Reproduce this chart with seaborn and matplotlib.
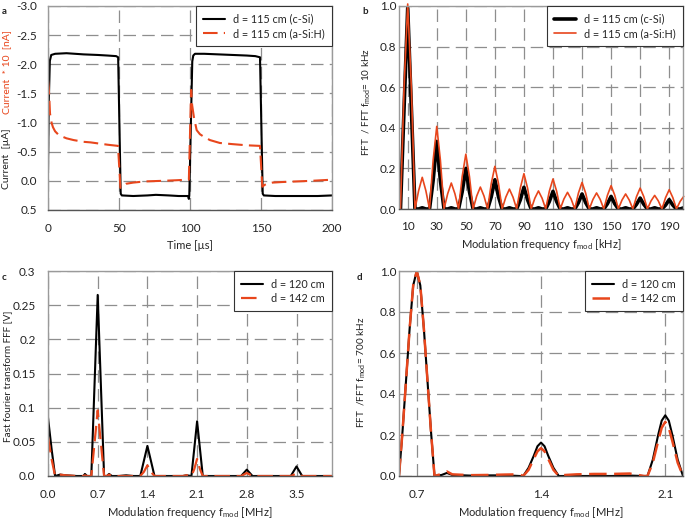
import numpy as np
import pandas as pd
import seaborn as sns
import matplotlib.pyplot as plt

# ---- panel a: current vs time ----
time_csi = [0, 0.5, 1.3, 2.3, 5, 13, 25, 35, 42, 48,
            49.4, 51.2, 52, 60, 70, 76, 85, 92, 98.6, 99.2,
            99.5, 101.6, 102.3, 103.5, 110, 120, 130, 140, 146, 149.3,
            151.2, 152, 160, 170, 180, 190, 200]
curr_csi = [-0.19, -1.3, -2.06, -2.16, -2.18, -2.19, -2.17, -2.16, -2.15, -2.14,
            -2.12, 0.22, 0.25, 0.26, 0.25, 0.24, 0.25, 0.26, 0.26, 0.31,
            0.25, -2.05, -2.15, -2.18, -2.18, -2.17, -2.16, -2.15, -2.14, -2.12,
            0.22, 0.25, 0.26, 0.26, 0.26, 0.26, 0.25]

time_asi = [0, 0.5, 0.9, 1.4, 2.0, 2.6, 3.5, 5, 7, 10,
            13, 18, 25, 30, 36, 42, 49.3, 51, 52.5, 55,
            60, 68, 80, 90, 98.5, 99.2, 100.8, 101.5, 102.7, 104.7,
            107, 109.5, 114, 121, 130, 140, 149.3, 150.9, 152.5, 154,
            158, 165, 175, 185, 200]
curr_asi = [-1.73, -1.6, -1.44, -1.16, -1.06, -0.99, -0.92, -0.85, -0.8, -0.76,
            -0.73, -0.7, -0.67, -0.66, -0.64, -0.62, -0.6, 0.12, 0.09, 0.05,
            0.03, 0.01, 0.0, -0.01, -0.02, -0.02, -1.56, -1.3, -1.1, -0.87,
            -0.8, -0.76, -0.7, -0.65, -0.63, -0.61, -0.6, 0.1, 0.07, 0.05,
            0.03, 0.02, 0.01, 0.0, -0.02]

# ---- panel b: normalised FFT, kHz ----
freq_b = [5, 7.5, 10, 12.5, 15, 17.5, 20, 22.5, 25, 27.5,
          30, 32.5, 35, 37.5, 40, 42.5, 45, 47.5, 50, 52.5,
          55, 57.5, 60, 62.5, 65, 67.5, 70, 72.5, 75, 77.5,
          80, 82.5, 85, 87.5, 90, 92.5, 95, 97.5, 100, 102.5,
          105, 107.5, 110, 112.5, 115, 117.5, 120, 122.5, 125, 127.5,
          130, 132.5, 135, 137.5, 140, 142.5, 145, 147.5, 150, 152.5,
          155, 157.5, 160, 162.5, 165, 167.5, 170, 172.5, 175, 177.5,
          180, 182.5, 185, 187.5, 190, 192.5, 195, 197.5, 200]
fft_csi = [0, 0.5, 0.99, 0.5, 0, 0, 0.006, 0, 0, 0.14,
           0.333, 0.14, 0, 0, 0.006, 0, 0, 0.085, 0.2, 0.085,
           0, 0, 0.006, 0, 0, 0.06, 0.144, 0.06, 0, 0,
           0.006, 0, 0, 0.045, 0.107, 0.045, 0, 0, 0.006, 0,
           0, 0.037, 0.087, 0.037, 0, 0, 0.006, 0, 0, 0.031,
           0.074, 0.031, 0, 0, 0.006, 0, 0, 0.026, 0.062, 0.026,
           0, 0, 0.006, 0, 0, 0.023, 0.054, 0.023, 0, 0,
           0.006, 0, 0, 0.019, 0.046, 0.019, 0, 0, 0.006]
fft_asi = [0, 0.6, 1.01, 0.6, 0, 0.09, 0.156, 0.09, 0, 0.24,
           0.407, 0.24, 0, 0.075, 0.128, 0.075, 0, 0.16, 0.27, 0.16,
           0, 0.064, 0.108, 0.064, 0, 0.125, 0.21, 0.125, 0, 0.058,
           0.098, 0.058, 0, 0.103, 0.174, 0.103, 0, 0.053, 0.089, 0.053,
           0, 0.088, 0.148, 0.088, 0, 0.049, 0.082, 0.049, 0, 0.078,
           0.131, 0.078, 0, 0.047, 0.079, 0.047, 0, 0.068, 0.115, 0.068,
           0, 0.044, 0.074, 0.044, 0, 0.061, 0.103, 0.061, 0, 0.04,
           0.067, 0.04, 0, 0.056, 0.095, 0.056, 0, 0.037, 0.062]

# ---- panel c: FFT amplitude, MHz ----
freq_c = [0.0, 0.05, 0.1, 0.17, 0.25, 0.4, 0.5, 0.52, 0.55, 0.61,
          0.7, 0.79, 0.83, 0.86, 0.9, 1.0, 1.1, 1.2, 1.3, 1.35,
          1.4, 1.45, 1.5, 1.7, 1.9, 1.95, 2.02, 2.06, 2.1, 2.14,
          2.18, 2.3, 2.5, 2.72, 2.8, 2.88, 3.0, 3.2, 3.42, 3.5,
          3.58, 3.8, 4.0]
fft_120 = [0.0855, 0.04, 0.0, 0.002, 0.001, 0.0, 0.0, 0.003, 0.0, 0.0,
           0.265, 0.0, 0.0, 0.003, 0.0, 0.0, 0.001, 0.0, 0.0, 0.022,
           0.044, 0.022, 0.0, 0.0, 0.0, 0.001, 0.0, 0.04, 0.080, 0.04,
           0.0, 0.0, 0.0, 0.0, 0.0093, 0.0, 0.0, 0.0, 0.0, 0.014,
           0.0, 0.0, 0.0]
fft_142 = [0.057, 0.025, 0.0, 0.002, 0.001, 0.0, 0.0, 0.001, 0.0, 0.0,
           0.096, 0.0, 0.0, 0.002, 0.0, 0.0, 0.0, 0.0, 0.0, 0.006,
           0.0156, 0.006, 0.0, 0.0, 0.0, 0.001, 0.0, 0.01, 0.025, 0.01,
           0.0, 0.0, 0.0, 0.0, 0.0044, 0.0, 0.0, 0.0, 0.0, 0.0034,
           0.0, 0.0, 0.0]

# ---- panel d: normalised FFT, MHz ----
freq_d = [0.6, 0.62, 0.64, 0.66, 0.68, 0.70, 0.72, 0.74, 0.76, 0.78,
          0.80, 0.84, 0.87, 0.90, 1.0, 1.1, 1.2, 1.28, 1.30, 1.33,
          1.36, 1.38, 1.40, 1.42, 1.44, 1.47, 1.50, 1.52, 1.6, 1.7,
          1.8, 1.9, 1.98, 2.0, 2.03, 2.06, 2.08, 2.10, 2.12, 2.14,
          2.17, 2.20]
norm_120 = [0, 0.22, 0.47, 0.72, 0.93, 1.0, 0.93, 0.72, 0.47, 0.22,
            0.0, 0.005, 0.015, 0.005, 0.002, 0.003, 0.003, 0.0, 0.0, 0.04,
            0.10, 0.145, 0.163, 0.145, 0.10, 0.04, 0.0, 0.0, 0.0, 0.0,
            0.0, 0.002, 0.0, 0.0, 0.08, 0.2, 0.27, 0.296, 0.27, 0.2,
            0.08, 0.0]
norm_142 = [0, 0.22, 0.47, 0.72, 0.93, 1.0, 0.93, 0.72, 0.47, 0.22,
            0.0, 0.01, 0.022, 0.008, 0.004, 0.005, 0.007, 0.008, 0.0, 0.03,
            0.085, 0.12, 0.136, 0.12, 0.085, 0.03, 0.0, 0.004, 0.008, 0.01,
            0.01, 0.012, 0.0, 0.0, 0.065, 0.17, 0.235, 0.264, 0.235, 0.17,
            0.065, 0.0]

yticks_c = [0.0, 0.05, 0.1, 0.15, 0.2, 0.25, 0.3]
ylabels_c = ['0.0', '0.05', '0.1', '0.15', '0.2', '0.25', '0.3']
xticks_c = [0.0, 0.7, 1.4, 2.1, 2.8, 3.5]
xticks_d = [0.7, 1.4, 2.1]

RED = '#e8461c'
GRID = '#8e8e8e'
DASH = (0, (7, 3))

sns.set_theme(style='white')
plt.rcParams['font.family'] = ['Lato', 'DejaVu Sans']
plt.rcParams['mathtext.fontset'] = 'custom'
plt.rcParams['mathtext.rm'] = 'Lato'
plt.rcParams['mathtext.it'] = 'Lato:italic'
plt.rcParams['mathtext.bf'] = 'Lato:bold'
plt.rcParams['axes.unicode_minus'] = False

W, H = 685, 519
fig = plt.figure(figsize=(W / 100, H / 100), dpi=100)


def px_axes(x0, y0, x1, y1):
    return fig.add_axes([x0 / W, 1 - y1 / H, (x1 - x0) / W, (y1 - y0) / H])


ax_a = px_axes(48, 6, 332, 210)
ax_b = px_axes(399, 6, 683, 209)
ax_c = px_axes(48, 271, 332, 476)
ax_d = px_axes(399, 271, 683, 476)


def style_axes(ax, ylen, ypad):
    ax.grid(True, color=GRID, linestyle=(0, (10, 5)), linewidth=0.9)
    ax.set_axisbelow(True)
    for s in ax.spines.values():
        s.set_color('#9a9a9a')
        s.set_linewidth(1.0)
    ax.spines['bottom'].set_color('#555555')
    ax.tick_params(axis='x', length=0, pad=9, labelsize=8.5, labelcolor='#222222')
    ax.tick_params(axis='y', length=ylen, pad=ypad, labelsize=8.5,
                   color='#9a9a9a', labelcolor='#222222')


def add_legend(ax):
    leg = ax.legend(loc='upper right', borderaxespad=0, frameon=True, fancybox=False,
                    edgecolor='#333333', framealpha=1, fontsize=7.8, handlelength=2.0,
                    handletextpad=0.7, borderpad=0.7, labelspacing=0.3)
    leg.get_frame().set_linewidth(0.8)


# a
sns.lineplot(x=time_csi, y=curr_csi, ax=ax_a, color='black', lw=1.5,
             estimator=None, sort=False, label='d = 115 cm (c-Si)')
sns.lineplot(x=time_asi, y=curr_asi, ax=ax_a, color=RED, lw=1.5,
             linestyle=DASH, estimator=None, sort=False,
             label='d = 115 cm (a-Si:H)')
ax_a.set_xlim(0, 200)
ax_a.set_ylim(0.5, -3.0)
ax_a.set_xticks([0, 50, 100, 150, 200])
ax_a.set_yticks(np.arange(-3.0, 0.51, 0.5))
ax_a.yaxis.set_major_formatter(plt.FormatStrFormatter('%.1f'))
style_axes(ax_a, 3, 5)
ax_a.set_xlabel('Time [µs]', fontsize=8)
ax_a.xaxis.set_label_coords(0.5, -0.145)
ax_a.set_ylabel('')
add_legend(ax_a)

# b
sns.lineplot(x=freq_b, y=fft_csi, ax=ax_b, color='black', lw=2.6,
             estimator=None, sort=False, label='d = 115 cm (c-Si)')
sns.lineplot(x=freq_b, y=fft_asi, ax=ax_b, color=RED, lw=1.2,
             estimator=None, sort=False, label='d = 115 cm (a-Si:H)', clip_on=False)
ax_b.set_xlim(4, 199.5)
ax_b.set_ylim(0, 1.0)
ax_b.set_xticks(list(range(10, 200, 20)))
ax_b.set_yticks([0.0, 0.2, 0.4, 0.6, 0.8, 1.0])
ax_b.yaxis.set_major_formatter(plt.FormatStrFormatter('%.1f'))
style_axes(ax_b, 0, 2)
ax_b.set_xlabel('Modulation frequency f$_{\\mathrm{mod}}$ [kHz]', fontsize=8)
ax_b.xaxis.set_label_coords(0.5, -0.14)
ax_b.set_ylabel('')
add_legend(ax_b)

# c
sns.lineplot(x=freq_c, y=fft_120, ax=ax_c, color='black', lw=1.5,
             estimator=None, sort=False, label='d = 120 cm')
sns.lineplot(x=freq_c, y=fft_142, ax=ax_c, color=RED, lw=1.6,
             linestyle=DASH, estimator=None, sort=False, label='d = 142 cm')
ax_c.set_xlim(0, 4.0)
ax_c.set_ylim(0, 0.3)
ax_c.set_xticks(xticks_c)
ax_c.set_xticklabels([f'{v:.1f}' for v in xticks_c])
ax_c.set_yticks(yticks_c)
ax_c.set_yticklabels(ylabels_c)
style_axes(ax_c, 3, 6)
ax_c.set_xlabel('Modulation frequency f$_{\\mathrm{mod}}$ [MHz]', fontsize=8)
ax_c.xaxis.set_label_coords(0.5, -0.14)
ax_c.set_ylabel('')
add_legend(ax_c)

# d
sns.lineplot(x=freq_d, y=norm_120, ax=ax_d, color='black', lw=1.5,
             estimator=None, sort=False, label='d = 120 cm')
sns.lineplot(x=freq_d, y=norm_142, ax=ax_d, color=RED, lw=1.8,
             linestyle=DASH, estimator=None, sort=False, label='d = 142 cm')
ax_d.set_xlim(0.6, 2.2)
ax_d.set_ylim(0, 1.0)
ax_d.set_xticks(xticks_d)
ax_d.set_xticklabels([f'{v:.1f}' for v in xticks_d])
ax_d.set_yticks([0.0, 0.2, 0.4, 0.6, 0.8, 1.0])
ax_d.yaxis.set_major_formatter(plt.FormatStrFormatter('%.1f'))
style_axes(ax_d, 0, 2)
ax_d.set_xlabel('Modulation frequency f$_{\\mathrm{mod}}$ [MHz]', fontsize=8)
ax_d.xaxis.set_label_coords(0.5, -0.14)
ax_d.set_ylabel('')
add_legend(ax_d)

# y labels and panel letters
fig.text(7 / W, 1 - 159 / H, 'Current  [µA]', rotation=90, ha='center', va='center',
         fontsize=7.5, color='#222222')
fig.text(7 / W, 1 - 72 / H, 'Current  * 10  [nA]', rotation=90, ha='center', va='center',
         fontsize=7.5, color=RED)
fig.text(367 / W, 1 - 102 / H, 'FFT  / FFT f$_{\\mathrm{mod}}$= 10 kHz', rotation=90,
         ha='center', va='center', fontsize=7.2, color='#222222')
fig.text(8 / W, 1 - 376 / H, 'Fast fourier transform FFF [V]', rotation=90,
         ha='center', va='center', fontsize=7.2, color='#222222')
fig.text(362 / W, 1 - 372 / H, 'FFT  /FFT f$_{\\mathrm{mod}}$= 700 kHz', rotation=90,
         ha='center', va='center', fontsize=7.2, color='#222222')

for letter, (lx, ly) in {'a': (4, 11), 'b': (365, 11), 'c': (4, 277), 'd': (359, 277)}.items():
    fig.text(lx / W, 1 - ly / H, letter, ha='center', va='center',
             fontsize=7, fontweight='bold', color='#222222')

fig.savefig('out.png', dpi=100)
